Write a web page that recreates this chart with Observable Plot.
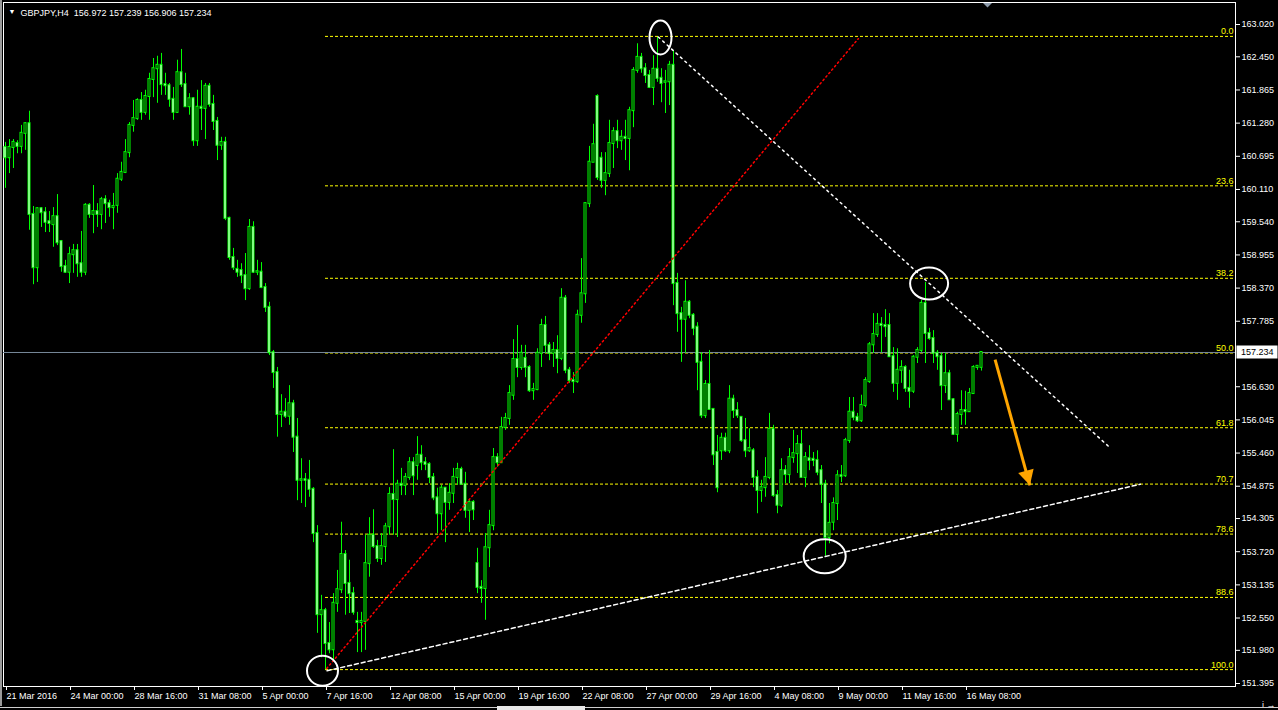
<!DOCTYPE html>
<html><head><meta charset="utf-8">
<script src="https://cdn.jsdelivr.net/npm/d3@7"></script>
<script src="https://cdn.jsdelivr.net/npm/@observablehq/plot@0.6"></script>
<style>
html,body{margin:0;padding:0;background:#000;overflow:hidden;}
svg{display:block;}
</style></head><body>
<script>
// ---- GBPJPY H4 candles ----
const open = [
160.85,160.67,160.85,160.92,160.87,161.10,161.27,159.67,158.73,159.77,
159.70,159.54,159.49,159.63,159.19,158.75,158.65,158.96,159.03,158.80,
158.65,159.83,159.67,159.72,159.67,159.93,159.86,159.79,159.83,160.29,
160.41,160.76,161.24,161.36,161.68,161.47,161.75,162.05,162.24,162.30,
161.96,161.94,161.70,161.47,162.17,161.96,161.57,161.71,160.97,161.56,
161.54,161.93,161.61,161.31,160.89,160.94,159.60,158.91,158.70,158.68,
158.59,158.36,159.44,158.65,158.65,158.38,158.03,157.23,156.88,156.14,
156.18,156.11,156.33,155.74,154.98,154.99,154.98,154.82,154.04,152.61,
152.68,152.10,151.99,152.81,153.05,153.67,153.16,152.98,152.49,152.47,
152.49,153.51,154.01,153.81,153.60,153.81,154.16,154.73,154.64,154.91,
154.89,155.03,155.29,155.24,155.42,155.29,155.26,155.03,154.67,154.39,
154.84,154.59,154.75,155.03,155.17,154.91,154.45,154.59,153.51,153.09,
153.07,153.79,154.18,155.38,155.29,155.91,156.07,156.48,157.11,156.97,
157.13,156.97,156.56,156.58,157.22,157.71,157.36,157.22,157.27,157.13,
158.19,156.92,156.74,156.72,157.89,158.27,159.86,160.59,161.75,160.66,
160.27,160.39,160.92,161.13,160.97,161.03,161.01,161.50,162.21,162.44,
162.24,162.12,161.91,162.23,162.07,162.00,162.01,162.30,158.45,157.92,
157.82,158.12,157.89,157.68,157.06,156.12,156.67,156.23,155.47,155.50,
155.72,155.50,156.41,156.21,156.09,155.68,155.50,155.50,155.03,154.80,
154.85,155.03,155.88,154.71,154.54,155.15,155.08,155.38,155.45,155.61,
155.03,155.36,155.35,155.33,155.15,154.91,153.97,154.24,154.57,155.06,
155.06,155.68,156.18,156.09,156.03,156.30,156.72,157.37,157.55,157.73,
157.71,157.71,157.16,156.69,156.92,156.97,156.60,156.55,157.15,157.27,
158.10,157.57,157.48,157.22,157.16,156.65,156.86,156.40,155.79,156.14,
156.21,156.19,156.51,156.97,156.972];
const high = [
160.94,160.99,160.99,160.97,161.24,161.29,161.49,159.81,159.79,159.79,
159.79,159.72,159.79,160.02,159.21,158.86,159.09,159.14,159.14,159.37,
159.86,159.86,160.18,159.86,159.97,160.00,159.92,160.04,160.39,160.59,
160.99,161.29,161.68,161.71,161.82,161.86,162.16,162.42,162.46,162.51,
162.16,161.98,161.91,162.39,162.58,162.16,161.80,161.73,161.86,162.03,
161.98,161.98,161.77,161.38,161.03,161.03,159.62,159.07,158.86,158.80,
158.98,159.58,159.54,158.86,158.82,158.45,158.12,157.27,156.97,156.49,
156.42,156.65,156.39,156.07,155.36,155.10,155.33,154.85,154.18,152.95,
152.72,152.47,152.98,153.39,154.24,153.74,153.57,153.09,152.65,152.65,
154.01,154.32,154.46,153.92,154.04,154.22,154.85,155.52,154.98,155.19,
155.10,155.38,155.38,155.75,155.59,155.38,155.29,155.10,154.84,154.89,
154.85,154.92,155.19,155.28,155.21,155.12,154.62,154.62,153.78,153.21,
154.04,154.45,155.54,155.45,156.09,156.16,156.65,157.46,157.71,157.36,
157.36,157.00,156.69,157.30,157.82,157.87,157.41,157.41,157.53,158.36,
158.24,156.97,156.88,157.98,158.89,159.88,160.87,161.26,161.78,160.76,
160.76,161.33,161.20,161.33,161.15,161.33,161.56,162.26,162.68,162.51,
162.33,162.21,162.47,162.79,162.24,162.21,162.37,162.56,158.63,158.03,
158.50,158.15,157.92,157.76,157.23,156.74,157.27,156.24,155.77,155.81,
155.81,156.65,156.48,156.35,156.09,156.07,155.89,155.54,155.15,154.98,
155.38,156.16,155.95,154.80,155.36,155.24,155.54,155.86,155.77,155.86,
155.47,155.59,155.47,155.50,155.24,154.98,154.57,154.67,155.15,155.24,
155.72,156.44,156.44,156.16,156.48,156.79,157.41,157.92,157.92,157.85,
157.99,157.92,157.32,157.30,157.09,157.00,156.92,157.18,157.32,158.15,
158.47,157.66,157.62,157.27,157.22,157.22,156.92,156.42,156.18,156.56,
156.55,156.60,157.00,157.00,157.239];
const low = [
160.13,160.39,160.48,160.74,160.74,160.80,159.39,158.43,158.47,159.44,
159.35,159.35,159.09,159.12,158.65,158.63,158.45,158.63,158.56,158.56,
158.59,159.60,159.33,159.44,159.40,159.51,159.62,159.40,159.69,160.25,
160.39,160.67,161.12,161.33,161.33,161.42,161.33,161.73,161.63,161.77,
161.77,161.56,161.33,161.45,161.91,161.56,161.42,160.87,160.87,161.15,
160.99,161.56,161.15,160.62,160.80,159.56,158.86,158.68,158.56,158.45,
158.15,158.33,158.63,158.59,158.36,157.94,157.18,156.60,155.74,155.91,
156.07,155.95,155.47,154.62,154.57,154.50,154.68,153.88,152.28,151.85,
151.64,151.92,151.80,152.65,152.98,152.60,152.63,152.60,151.94,151.94,
151.98,153.27,153.78,153.53,153.48,153.53,154.01,154.01,153.97,154.71,
154.71,154.98,154.71,154.98,155.15,155.15,154.92,154.62,154.04,154.09,
153.88,154.45,154.57,154.89,154.89,154.31,154.06,154.27,152.98,152.81,
152.51,153.44,154.09,155.21,155.28,155.86,155.95,156.39,156.79,156.92,
156.79,156.53,156.39,156.56,156.97,157.22,157.09,156.97,156.86,157.09,
156.86,156.69,156.51,156.69,157.75,158.10,159.79,160.59,160.27,160.13,
160.00,160.32,160.48,160.83,160.80,160.62,160.44,161.20,162.16,162.16,
161.98,161.89,161.59,162.00,161.64,161.45,161.59,158.06,157.59,157.06,
157.22,157.83,157.53,156.56,156.07,156.07,156.21,155.24,154.76,155.33,
155.47,155.45,156.07,156.07,155.65,155.38,155.47,154.85,154.39,154.59,
154.68,154.99,154.68,154.39,154.50,154.92,154.92,155.28,155.10,155.03,
154.85,155.15,155.22,155.06,154.57,153.64,153.86,154.09,154.27,154.94,
155.03,155.63,156.03,156.00,156.00,156.26,156.69,157.22,157.50,157.23,
157.50,157.15,156.53,156.39,156.69,156.53,156.25,156.51,157.04,157.23,
157.04,157.45,157.04,156.92,156.21,156.51,156.39,155.77,155.65,155.95,
155.95,156.18,156.51,156.92,156.906];
const close = [
160.67,160.85,160.94,160.87,161.10,161.27,159.67,158.73,159.77,159.70,
159.53,159.51,159.63,159.17,158.75,158.65,158.96,159.03,158.80,158.65,
159.83,159.67,159.72,159.67,159.93,159.86,159.79,159.81,160.29,160.41,
160.76,161.24,161.36,161.68,161.47,161.75,162.05,162.24,162.30,161.96,
161.94,161.70,161.47,162.17,161.96,161.57,161.71,160.97,161.56,161.54,
161.93,161.61,161.31,160.89,160.94,159.60,158.91,158.73,158.65,158.59,
158.36,159.44,158.65,158.66,158.38,158.03,157.23,156.88,156.14,156.18,
156.11,156.33,155.74,154.98,154.99,154.98,154.82,154.04,152.61,152.68,
152.10,151.99,152.81,153.05,153.67,153.16,152.98,152.65,152.47,152.49,
153.51,154.01,153.81,153.60,153.81,154.16,154.73,154.64,154.91,154.89,
155.03,155.29,155.06,155.42,155.29,155.26,155.03,154.67,154.39,154.84,
154.59,154.75,155.03,155.17,154.91,154.45,154.59,154.46,153.09,153.07,
153.79,154.18,155.38,155.29,155.91,156.07,156.51,157.11,156.97,157.22,
156.97,156.56,156.58,157.22,157.71,157.36,157.22,157.27,157.13,158.19,
156.92,156.74,156.72,157.89,158.27,159.86,160.59,160.90,160.32,160.27,
160.39,160.92,161.13,160.97,161.03,161.01,161.50,162.21,162.44,162.24,
162.12,161.91,162.23,162.07,161.98,162.01,162.30,158.45,157.92,157.82,
158.12,157.89,157.66,157.06,156.12,156.67,156.23,155.43,154.85,155.72,
155.50,156.41,156.21,156.12,155.68,155.50,155.54,155.03,154.80,154.85,
155.03,155.88,154.71,154.54,155.15,155.08,155.38,155.45,155.61,155.03,
155.38,155.33,155.33,155.12,154.91,153.97,154.22,154.57,155.06,155.05,
155.68,156.18,156.09,156.03,156.30,156.74,157.37,157.55,157.73,157.71,
157.69,157.16,156.69,156.92,156.97,156.60,156.55,157.15,157.27,158.10,
157.57,157.48,157.22,157.16,156.65,156.86,156.40,155.79,156.14,156.21,
156.19,156.51,156.97,156.99,157.234];

// axis ticks
const xTickBars = [0,16,32,48,64,80,96,112,128,144,160,176,192,208,224,240];
const xLabels = ["21 Mar 2016","24 Mar 00:00","28 Mar 16:00","31 Mar 08:00","5 Apr 00:00","7 Apr 16:00",
  "12 Apr 08:00","15 Apr 00:00","19 Apr 16:00","22 Apr 08:00","27 Apr 00:00","29 Apr 16:00",
  "4 May 08:00","9 May 00:00","11 May 16:00","16 May 08:00"];
const yTicks = [163.020,162.450,161.865,161.280,160.695,160.110,159.540,158.955,158.370,157.785,
  156.630,156.045,155.460,154.875,154.305,153.720,153.135,152.550,151.980,151.395];

// Fibonacci retracement (anchored at the low bar, ray to the right edge)
const fibHigh = 162.81, fibLow = 151.64, fibStartBar = 80, fibEndBar = 307;
const fibLevels = [0.0, 23.6, 38.2, 50.0, 61.8, 70.7, 78.6, 88.6, 100.0];

// drawn objects (bar index, price)
const redTrend = [{i:80.3, p:151.66},{i:213.2, p:162.77}];
const resistLine = [{i:163.2, p:162.80},{i:276.2, p:155.55}];
const supportLine = [{i:80.4, p:151.62},{i:283.7, p:154.91}];
const arrowFrom = {i:247.4, p:157.11}, arrowTo = {i:256.1, p:154.89};
const rings = [{i:163.75, p:162.79},{i:230.9, p:158.45},{i:204.8, p:153.64},{i:79.25, p:151.62}];
const ringSize = [[11,17],[19,16],[21,17],[15.5,15]];

const N = close.length;
const bars = d3.range(N).map(i => ({i, o: open[i], h: high[i], l: low[i], c: close[i]}));
const last = N - 1;
const priceLabel = close[last].toFixed(3);
const title = `GBPJPY,H4\u00a0\u00a0${open[last].toFixed(3)} ${high[last].toFixed(3)} ${low[last].toFixed(3)} ${close[last].toFixed(3)}`;
const fibPrice = d => fibHigh - d / 100 * (fibHigh - fibLow);
const LIME = "#00ff00";

const chart = Plot.plot({
  width: 1278, height: 710,
  marginLeft: 3, marginRight: 43, marginTop: 2, marginBottom: 24,
  style: {background: "#000", color: "#fff", fontFamily: "'Liberation Sans', Arial, sans-serif", fontSize: "9px", overflow: "visible"},
  x: {type: "linear", domain: [0, N - 1], range: [5, 5 + 4 * (N - 1)]},
  y: {type: "linear", domain: [151.395, 163.020], range: [683, 24]},
  marks: [
    Plot.frame({stroke: "#fff"}),
    Plot.ruleY(fibLevels, {y: fibPrice, x1: fibStartBar, x2: fibEndBar, stroke: "#ffff00", strokeDasharray: "3,2"}),
    Plot.text(fibLevels, {y: fibPrice, text: d => d.toFixed(1), frameAnchor: "right", textAnchor: "end", dx: -2, dy: -5, fill: "#ffff00", fontSize: 9}),
    Plot.ruleY([close[last]], {stroke: "#778899"}),
    Plot.ruleX(bars, {x: "i", y1: "l", y2: "h", stroke: LIME}),
    Plot.rect(bars, {x1: d => d.i - 0.25, x2: d => d.i + 0.25, y1: "o", y2: "c",
      fill: d => d.c < d.o ? "#ffffff" : "#000000", stroke: LIME, strokeWidth: 1, insetTop: -0.5, insetBottom: -0.5}),
    Plot.line(redTrend, {x: "i", y: "p", stroke: "#ff0000", strokeDasharray: "1.5,3"}),
    Plot.line(resistLine, {x: "i", y: "p", stroke: "#ffffff", strokeDasharray: "2,4"}),
    Plot.line(supportLine, {x: "i", y: "p", stroke: "#ffffff", strokeDasharray: "4,3"}),
    Plot.link([{a: arrowFrom, b: arrowTo}], {x1: d => d.a.i, y1: d => d.a.p, x2: d => d.b.i, y2: d => d.b.p, stroke: "#ffa500", strokeWidth: 3}),
    Plot.axisY(yTicks, {anchor: "right", tickSize: 4, tickPadding: 2, tickFormat: d => d.toFixed(3), fontSize: 9}),
    Plot.axisX(xTickBars, {anchor: "bottom", tickSize: 4, tickPadding: 2, textAnchor: "start", dx: 1,
      tickFormat: d => xLabels[xTickBars.indexOf(d)], fontSize: 9}),
    Plot.text([title], {frameAnchor: "top-left", dx: 17, dy: 7, textAnchor: "start", fill: "#fff", fontSize: 9}),
    Plot.text(["\u25BC"], {frameAnchor: "top-left", dx: 5, dy: 7, textAnchor: "start", fill: "#fff", fontSize: 7})
  ]
});
document.body.appendChild(chart);

// overlays placed through the plot's own scales
const sx = chart.scale("x"), sy = chart.scale("y");
const X = v => sx.apply(v) + 0.5, Y = v => sy.apply(v) + 0.5;
const svg = d3.select(chart);

// current price box on the right axis
{
  const yc = Math.round(Y(close[last]));
  const g = svg.append("g").attr("text-anchor", "start");
  g.append("rect").attr("x", 1236.5).attr("y", yc - 6.5).attr("width", 41).attr("height", 13).attr("fill", "#fff");
  g.append("text").attr("x", 1241).attr("y", yc).attr("dy", "0.32em").attr("text-anchor", "start")
    .attr("fill", "#000").attr("font-size", 9).text(priceLabel);
}

// rings
rings.forEach((r, k) => {
  svg.append("ellipse").attr("cx", X(r.i)).attr("cy", Y(r.p))
    .attr("rx", ringSize[k][0]).attr("ry", ringSize[k][1])
    .attr("fill", "none").attr("stroke", "#fff").attr("stroke-width", 2);
});

// arrow head
{
  const x1 = X(arrowFrom.i), y1 = Y(arrowFrom.p), x2 = X(arrowTo.i), y2 = Y(arrowTo.p);
  const dx = x2 - x1, dy = y2 - y1, L = Math.hypot(dx, dy), ux = dx / L, uy = dy / L;
  const hl = 15, hw = 8;
  const bx = x2 - ux * hl, by = y2 - uy * hl;
  svg.append("polygon")
    .attr("points", [[x2, y2], [bx - uy * hw, by + ux * hw], [bx + uy * hw, by - ux * hw]].map(p => p.join(",")).join(" "))
    .attr("fill", "#ffa500");
}

// window chrome
svg.append("rect").attr("x", 0).attr("y", 0).attr("width", 2).attr("height", 706).attr("fill", "#9a9a9a");
svg.append("polygon").attr("points", "983,3 992,3 987.5,7.5").attr("fill", "#8c9aaa");
svg.append("rect").attr("x", 0).attr("y", 707).attr("width", 1278).attr("height", 1).attr("fill", "#cfcfcf");
svg.append("rect").attr("x", 497).attr("y", 706).attr("width", 88).attr("height", 4).attr("fill", "#e8e8e8");
</script>
</body></html>
